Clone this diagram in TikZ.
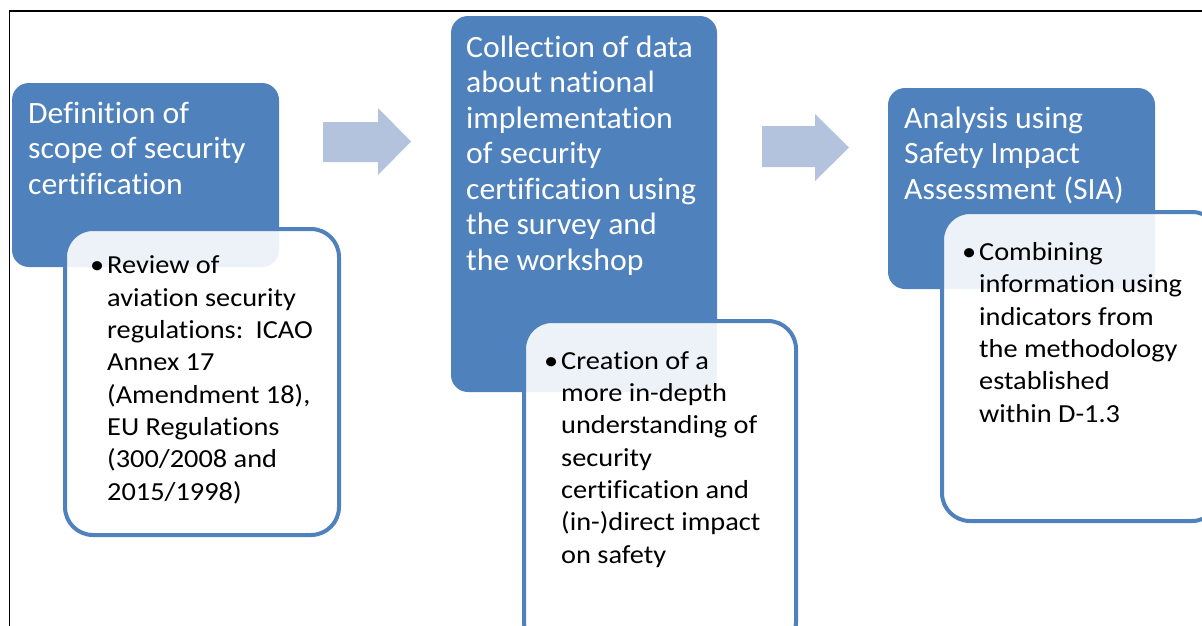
\documentclass[tikz,border=0pt]{standalone}
\usepackage{fontspec}
\setmainfont{Carlito}[Ligatures=NoCommon]
\newfontfamily\stagefont{Carlito}[Ligatures=NoCommon,FakeStretch=1.025]
\newfontfamily\notefont{Carlito}[Ligatures=NoCommon,FakeStretch=1.09]
\frenchspacing
\definecolor{stageblue}{RGB}{79,129,189}
\definecolor{flowblue}{RGB}{179,195,222}
\tikzset{
  stage/.style={fill=stageblue,rounded corners=17pt},
  note/.style={draw=stageblue,line width=4pt,fill=white,fill opacity=0.9,rounded corners=28pt},
  flow/.style={fill=flowblue},
  % texts sit on the baseline of their last line
  stagetext/.style={anchor=base west,inner sep=0pt,text=white,align=left,font=\stagefont\fontsize{31}{35.5}\selectfont},
  notetext/.style={anchor=base west,inner sep=0pt,align=left,font=\notefont\fontsize{26}{32.3}\selectfont}
}
\newcommand{\bul}{\llap{•\hspace{3pt}}}
\begin{document}
\begin{tikzpicture}[x=1pt,y=-1pt]
\useasboundingbox(0,0)rectangle(1202,625);
\clip(0,0)rectangle(1202,625);
\draw[line width=1.3pt](9.5,630)--(9.5,11)--(1210,11);
% first stage
\fill[stage](12,83)rectangle(279,267);
\draw[note](65,229)rectangle(339,535);
\node[stagetext](scope)at(28,194){Definition of\\scope of security\\certification};
\node[notetext](scopenote)at(107,500){\bul Review of\\aviation security\\regulations:\hspace{6pt} ICAO\\Annex 17\\(Amendment 18),\\EU Regulations\\(300/2008 and\\2015/1998)};
\fill[flow](323,122)--(378,122)--(378,108)--(411,141.5)--(378,175)--(378,162)--(323,162)--cycle;
% second stage
\fill[stage](451,16)rectangle(717,392);
\draw[note](524,321)rectangle(796,650);
\node[stagetext](survey)at(466,270){Collection of data\\about national\\implementation\\of security\\certification using\\the survey and\\the workshop};
\node[notetext](surveynote)at(561,563){\bul Creation of a\\more in-depth\\understanding of\\security\\certification and\\(in-)direct impact\\on safety};
\fill[flow](762,126)--(815,126)--(815,114)--(849,147.5)--(815,181)--(815,167)--(762,167)--cycle;
% third stage
\fill[stage](888,88)rectangle(1155,289);
\draw[note](942,212)rectangle(1220,521);
\node[stagetext](sia)at(904,199){Analysis using\\Safety Impact\\Assessment (SIA)};
\node[notetext](sianote)at(979,422){\bul Combining\\information using\\indicators from\\the methodology\\established\\within D-1.3};
\end{tikzpicture}
\end{document}
